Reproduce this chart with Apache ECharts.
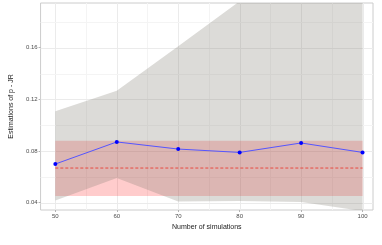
<!DOCTYPE html>
<html>
<head>
<meta charset="utf-8">
<script src="https://cdn.jsdelivr.net/npm/echarts@6/dist/echarts.min.js"></script>
<style>html,body{margin:0;padding:0;background:#fff}#c{width:382px;height:245px}</style>
</head>
<body>
<div id="c"></div>
<script>
// ---- data ----
var simulations = [50, 60, 70, 80, 90, 100];
var estimates   = [0.0699, 0.0870, 0.0815, 0.0789, 0.0862, 0.0789];
var trueValue   = 0.0668;
var greyLower   = [0.0416, 0.0591, 0.0408, 0.0412, 0.0405, 0.0335];
var greyUpper   = [0.1107, 0.1267, 0.1611, 0.1960, 0.2100, 0.2250];
var pinkLower   = [0.0452, 0.0452, 0.0452, 0.0452, 0.0452, 0.0452];
var pinkUpper   = [0.0880, 0.0880, 0.0880, 0.0880, 0.0880, 0.0880];
var xTicks      = [50, 60, 70, 80, 90, 100];
var xMinorGrid  = [55, 65, 75, 85, 95];
var yTicks      = [0.04, 0.08, 0.12, 0.16];
var yMinorGrid  = [0.06, 0.10, 0.14, 0.18];

var FONT = "'Liberation Sans', Arial, sans-serif";

function pairs(xs, ys) { return xs.map(function (x, i) { return [x, ys[i]]; }); }
function ribbonRows(xs, lo, hi) { return xs.map(function (x, i) { return [x, lo[i], hi[i]]; }); }

function ribbonSeries(rows, fill, z) {
  return {
    type: 'custom', silent: true, z: z, clip: true,
    data: rows,
    encode: { x: 0, y: [1, 2] },
    renderItem: function (params, api) {
      if (params.dataIndex !== 0) return null;
      var cs = params.coordSys;
      var top = [], bottom = [];
      for (var i = 0; i < rows.length; i++) {
        top.push(api.coord([rows[i][0], rows[i][2]]));
        bottom.unshift(api.coord([rows[i][0], rows[i][1]]));
      }
      return {
        type: 'group',
        clipPath: { type: 'rect', shape: { x: cs.x, y: cs.y, width: cs.width, height: cs.height } },
        children: [{
          type: 'polygon',
          shape: { points: top.concat(bottom) },
          style: { fill: fill, stroke: null }
        }]
      };
    }
  };
}

var gridData = [];
xTicks.forEach(function (v) { gridData.push([v, 1, 1]); });
xMinorGrid.forEach(function (v) { gridData.push([v, 1, 0]); });
yTicks.forEach(function (v) { gridData.push([v, 0, 1]); });
yMinorGrid.forEach(function (v) { gridData.push([v, 0, 0]); });

var chart = echarts.init(document.getElementById('c'), null, { renderer: 'canvas' });
chart.setOption({
  animation: false,
  backgroundColor: '#ffffff',
  grid: { left: 29, right: 9, top: 3, bottom: 35, show: true, borderColor: '#cccccc', borderWidth: 1, backgroundColor: '#ffffff' },
  xAxis: {
    type: 'value', min: 47.6, max: 101.7,
    name: 'Number of simulations', nameLocation: 'middle', nameGap: 9,
    nameTextStyle: { fontFamily: FONT, fontSize: 7, color: '#1a1a1a' },
    axisLine: { show: false },
    axisTick: { show: true, length: 2, customValues: xTicks, lineStyle: { color: '#b3b3b3', width: 1 } },
    axisLabel: { customValues: xTicks, margin: 3, fontFamily: FONT, fontSize: 6, color: '#4d4d4d' },
    splitLine: { show: false }
  },
  yAxis: {
    type: 'value', min: 0.0343, max: 0.1946,
    name: 'Estimations of p - JR', nameLocation: 'middle', nameGap: 19,
    nameTextStyle: { fontFamily: FONT, fontSize: 7, color: '#1a1a1a' },
    axisLine: { show: false },
    axisTick: { show: true, length: 2, customValues: yTicks, lineStyle: { color: '#b3b3b3', width: 1 } },
    axisLabel: { customValues: yTicks, margin: 3, fontFamily: FONT, fontSize: 6, color: '#4d4d4d',
      formatter: function (v) { return v.toFixed(2); } },
    splitLine: { show: false }
  },
  series: [
    {
      type: 'custom', silent: true, z: 1,
      data: gridData,
      renderItem: function (params, api) {
        var cs = params.coordSys;
        var v = api.value(0), vertical = api.value(1), major = api.value(2);
        var color = major ? '#ebebeb' : '#f4f4f4';
        var shape;
        if (vertical) {
          var px = Math.round(api.coord([v, 0.1])[0]) + 0.5;
          shape = { x1: px, y1: cs.y, x2: px, y2: cs.y + cs.height };
        } else {
          var py = Math.round(api.coord([75, v])[1]) + 0.5;
          shape = { x1: cs.x, y1: py, x2: cs.x + cs.width, y2: py };
        }
        return { type: 'line', shape: shape, style: { stroke: color, lineWidth: 1 } };
      }
    },
    ribbonSeries(ribbonRows(simulations, pinkLower, pinkUpper), 'rgba(255,0,0,0.2)', 2),
    ribbonSeries(ribbonRows(simulations, greyLower, greyUpper), 'rgba(125,123,110,0.27)', 3),
    { type: 'line', data: simulations.map(function (x) { return [x, trueValue]; }), symbol: 'none',
      lineStyle: { color: '#e84a40', width: 1, type: [3, 2] }, silent: true, z: 4 },
    { type: 'line', data: pairs(simulations, estimates), symbol: 'circle', symbolSize: 4,
      itemStyle: { color: '#0000ff' }, lineStyle: { color: '#5555ff', width: 1 }, silent: true, z: 5 }
  ]
});
</script>
</body>
</html>
